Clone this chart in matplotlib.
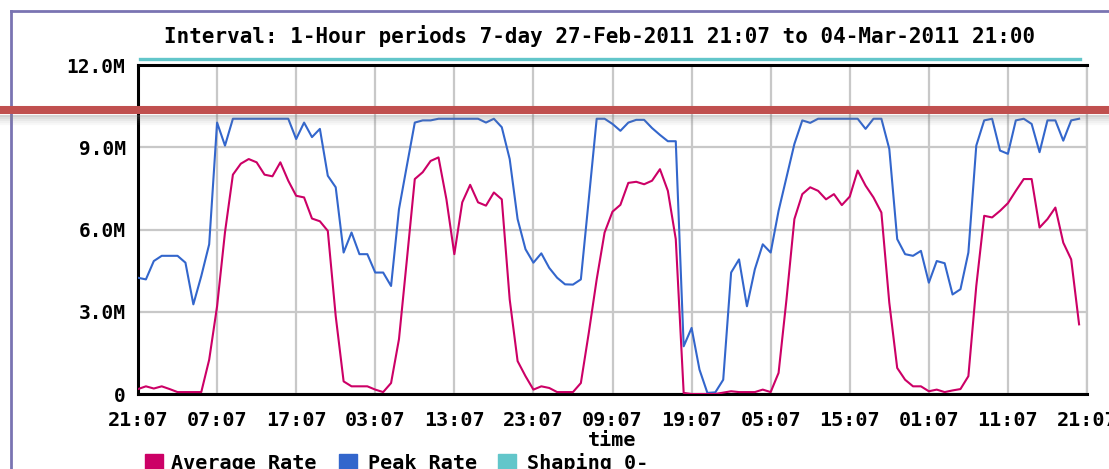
import numpy as np
import matplotlib
matplotlib.use('Agg')
import matplotlib.pyplot as plt
from matplotlib.lines import Line2D
from matplotlib.patches import Rectangle

W, H = 1109, 469

title = 'Interval: 1-Hour periods 7-day 27-Feb-2011 21:07 to 04-Mar-2011 21:00'
tick_labels = ['21:07', '07:07', '17:07', '03:07', '13:07', '23:07', '09:07',
               '19:07', '05:07', '15:07', '01:07', '11:07', '21:07']
y_ticks = [0, 3, 6, 9, 12]
y_labels = ['0', '3.0M', '6.0M', '9.0M', '12.0M']
series_names = ['Average Rate', 'Peak Rate', 'Shaping 0-']

# hourly samples, Mbps
hours = np.arange(120)
peak_rate = [4.24, 4.18, 4.85, 5.04, 5.04, 5.04, 4.79, 3.27, 4.30, 5.46,
             9.90, 9.06, 10.04, 10.04, 10.04, 10.04, 10.04, 10.04, 10.04, 10.04,
             9.30, 9.90, 9.37, 9.67, 7.96, 7.54, 5.16, 5.89, 5.10, 5.10,
             4.43, 4.43, 3.94, 6.74, 8.33, 9.90, 9.98, 9.98, 10.04, 10.04,
             10.04, 10.04, 10.04, 10.04, 9.90, 10.04, 9.73, 8.57, 6.38, 5.28,
             4.79, 5.13, 4.60, 4.24, 4.00, 3.99, 4.18, 7.10, 10.04, 10.04,
             9.85, 9.60, 9.90, 10.00, 10.00, 9.70, 9.45, 9.22, 9.22, 1.74,
             2.41, 0.89, 0.04, 0.06, 0.52, 4.43, 4.91, 3.20, 4.55, 5.46,
             5.16, 6.68, 7.90, 9.12, 9.98, 9.89, 10.04, 10.04, 10.04, 10.04,
             10.04, 10.04, 9.67, 10.04, 10.04, 8.94, 5.65, 5.10, 5.04, 5.22,
             4.06, 4.85, 4.77, 3.63, 3.82, 5.16, 9.06, 9.98, 10.04, 8.88,
             8.76, 9.98, 10.04, 9.85, 8.82, 9.98, 9.98, 9.24, 9.98, 10.04]
avg_rate = [0.18, 0.28, 0.20, 0.28, 0.18, 0.07, 0.07, 0.07, 0.07, 1.25,
            3.20, 5.90, 8.00, 8.40, 8.57, 8.45, 8.00, 7.94, 8.45, 7.78,
            7.23, 7.17, 6.40, 6.30, 5.95, 2.84, 0.46, 0.28, 0.28, 0.28,
            0.16, 0.07, 0.40, 2.00, 4.90, 7.84, 8.09, 8.50, 8.63, 7.10,
            5.10, 6.99, 7.63, 6.99, 6.87, 7.35, 7.10, 3.45, 1.20, 0.65,
            0.16, 0.28, 0.22, 0.07, 0.07, 0.07, 0.40, 2.23, 4.18, 5.89,
            6.65, 6.90, 7.70, 7.74, 7.65, 7.78, 8.20, 7.41, 5.65, 0.04,
            0.00, 0.00, 0.00, 0.00, 0.05, 0.10, 0.07, 0.07, 0.07, 0.16,
            0.07, 0.77, 3.45, 6.38, 7.29, 7.54, 7.41, 7.10, 7.29, 6.89,
            7.20, 8.15, 7.60, 7.17, 6.62, 3.33, 0.95, 0.52, 0.28, 0.28,
            0.10, 0.16, 0.07, 0.13, 0.18, 0.65, 3.94, 6.50, 6.44, 6.68,
            6.96, 7.41, 7.84, 7.84, 6.07, 6.38, 6.80, 5.52, 4.91, 2.54]
shaping_limit = 12.22

c_avg = '#cc0066'
c_peak = '#3366cc'
c_shape = '#62c6ca'
c_grid = '#c8c8c8'
font = 'DejaVu Sans Mono'


def fx(px):
    return px / W


def fy(py):
    return 1 - py / H


fig = plt.figure(figsize=(W / 100, H / 100), dpi=100)
ax = fig.add_axes([fx(138), fy(394), fx(1087 - 138), (394 - 65) / H])

ax.plot(hours, peak_rate, color=c_peak, lw=1.5, zorder=3)
ax.plot(hours, avg_rate, color=c_avg, lw=1.5, zorder=4)
ax.plot([hours[0] + 0.3, hours[-1] + 0.1], [shaping_limit, shaping_limit],
        color=c_shape, lw=2.4, clip_on=False, zorder=5)

ax.set_xlim(0, 120)
ax.set_ylim(0, 12)
ax.set_xticks(np.arange(0, 121, 10))
ax.set_xticklabels(tick_labels)
ax.set_yticks(y_ticks)
ax.set_yticklabels(y_labels)
ax.tick_params(length=0)
ax.tick_params(axis='x', pad=12)
ax.tick_params(axis='y', pad=9)
for lab in ax.get_xticklabels() + ax.get_yticklabels():
    lab.set_fontfamily(font)
    lab.set_fontweight('bold')
for lab in ax.get_xticklabels():
    lab.set_fontsize(14.5)
for lab in ax.get_yticklabels():
    lab.set_fontsize(14)

ax.grid(True, color=c_grid, lw=1.6)
ax.set_axisbelow(True)
for s in ['left', 'bottom', 'top']:
    ax.spines[s].set_color('black')
    ax.spines[s].set_linewidth(2.2)
ax.spines['right'].set_color(c_grid)
ax.spines['right'].set_linewidth(1.6)

ax.set_xlabel('time', fontfamily=font, fontweight='bold', fontsize=14.5, labelpad=1)

fig.text(fx(600), fy(36), title, ha='center', va='center',
         fontfamily=font, fontweight='bold', fontsize=15)

# legend
sq = [(145, c_avg), (339, c_peak), (498, c_shape)]
tx = [171, 368, 527]
for (x0, col), x1, name in zip(sq, tx, series_names):
    fig.patches.append(Rectangle((fx(x0), fy(476)), fx(18), 22 / H, color=col,
                                 transform=fig.transFigure, figure=fig))
    fig.text(fx(x1), fy(463), name, ha='left', va='center',
             fontfamily=font, fontweight='bold', fontsize=14.5)

# outer purple frame
fig.add_artist(Line2D([fx(11), fx(11)], [fy(11), 0], color='#7a74b2', lw=2))
fig.add_artist(Line2D([fx(11), 1], [fy(11), fy(11)], color='#7a74b2', lw=2))

# red marker band with soft shadow
for i, a in enumerate([0.35, 0.25, 0.17, 0.1, 0.05]):
    fig.add_artist(Line2D([0, 1], [fy(116 + 2 * i), fy(116 + 2 * i)],
                          color='#808080', alpha=a, lw=1.5, zorder=9))
fig.add_artist(Line2D([0, 1], [fy(110), fy(110)], color='#c0504f', lw=5.8, zorder=10))

fig.savefig('out.png', dpi=100)
